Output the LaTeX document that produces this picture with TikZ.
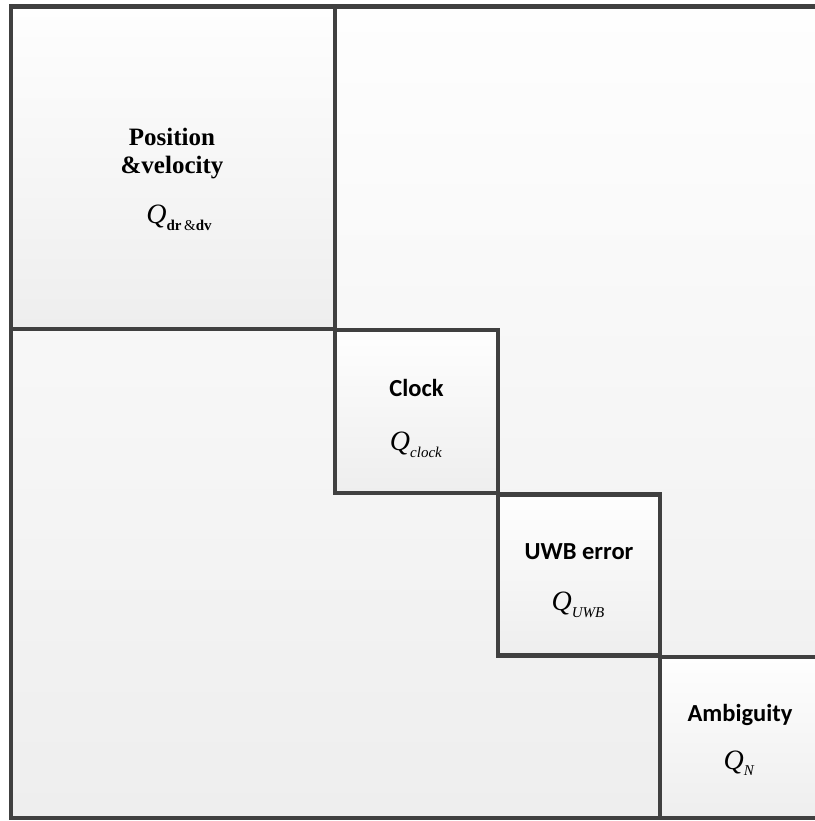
\documentclass[tikz,border=0pt]{standalone}
\usepackage{fontspec}
\setmainfont{Liberation Serif}
\newfontfamily\calibri{Carlito}
\definecolor{marco}{HTML}{404040}
\definecolor{claro}{HTML}{FEFEFE}
\definecolor{oscuro}{HTML}{EEEEEE}
\newcommand{\bajo}[1]{\raisebox{-0.5ex}{\fontsize{15}{15}\selectfont #1}}

\begin{document}
\begin{tikzpicture}[x=1pt,y=-1pt,
   bloque/.style={draw=marco,line width=4.5pt,top color=claro,bottom color=oscuro,inner sep=0pt,outer sep=0pt},
   titulo/.style={font=\calibri\bfseries\fontsize{24.5}{28}\selectfont,align=center},
   tituloserif/.style={font=\bfseries\fontsize{25}{28}\selectfont,align=center},
   cova/.style={font=\fontsize{28}{30}\selectfont}]

  \useasboundingbox (0,0) rectangle (814,821);

  % matriz completa
  \node[bloque,minimum width=811pt,minimum height=811.5pt] (matriz) at (416.5,412.25) {};

  % --- posicion y velocidad ---
  \node[bloque,minimum width=324pt,minimum height=322.5pt] (pv) at (173,167.75) {};
  \node[tituloserif] (pvt) at (172,154) {Position\\\&velocity};
  \node[cova] (pvq) at (179,218) {\textit{Q}\bajo{\textbf{dr}\,\&\textbf{dv}}};

  % --- reloj ---
  \node[bloque,minimum width=163pt,minimum height=163pt] (reloj) at (416.5,411.5) {};
  \node[titulo] (relojt) at (416.5,388) {Clock};
  \node[cova] (relojq) at (416,445) {\textit{Q}\bajo{\textit{clock}}};

  % --- error UWB ---
  \node[bloque,minimum width=162pt,minimum height=161pt] (uwb) at (579,575) {};
  \node[titulo] (uwbt) at (579,552) {UWB error};
  \node[cova] (uwbq) at (578,605) {\textit{Q}\bajo{\textit{UWB}}};

  % --- ambiguedad ---
  \node[bloque,minimum width=162pt,minimum height=161pt] (amb) at (741,737.5) {};
  \node[titulo] (ambt) at (740,715) {Ambiguity};
  \node[cova] (ambq) at (739,763) {\textit{Q}\bajo{\textit{N}}};
\end{tikzpicture}
\end{document}
